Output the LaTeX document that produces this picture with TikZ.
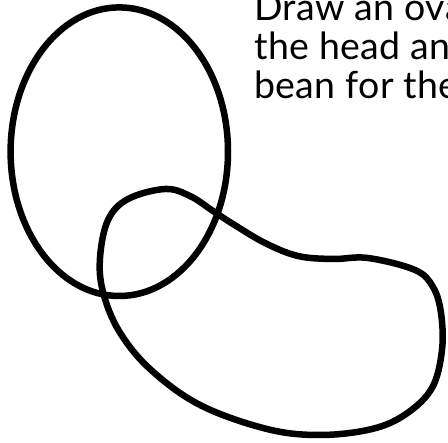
\documentclass[tikz,border=0pt]{standalone}
\usepackage{fontspec}
\setmainfont[LetterSpace=1.0]{Lato}
\begin{document}
\begin{tikzpicture}[x=1pt,y=-1pt,
  outline/.style={line width=6.5pt,draw=black,line join=round},
  caption/.style={anchor=base west,inner sep=0pt,font=\fontsize{37.5}{39}\selectfont}]
\useasboundingbox (0,0) rectangle (448,443);
\clip (0,0) rectangle (448,443);
\draw[outline] (119.3,151.7) ellipse[x radius=108.7,y radius=144.3];
\draw[outline] plot[smooth cycle,tension=0.6] coordinates{
  (165,189) (128,199) (108,220) (100,258) (103,292) (119,331) (150,369)
  (200,405) (267,429) (320,435) (372,429) (406,414) (432,388) (442,350)
  (441,313) (433,287) (415,270) (368,258) (333,259) (298,256) (265,243)
  (233,224) (213,211) (190,196)};
\node[caption] (l1) at (254,21) {Draw an oval for};
\node[caption] (l2) at (254,60) {the head and a};
\node[caption] (l3) at (254,99) {bean for the body.};
\end{tikzpicture}
\end{document}
